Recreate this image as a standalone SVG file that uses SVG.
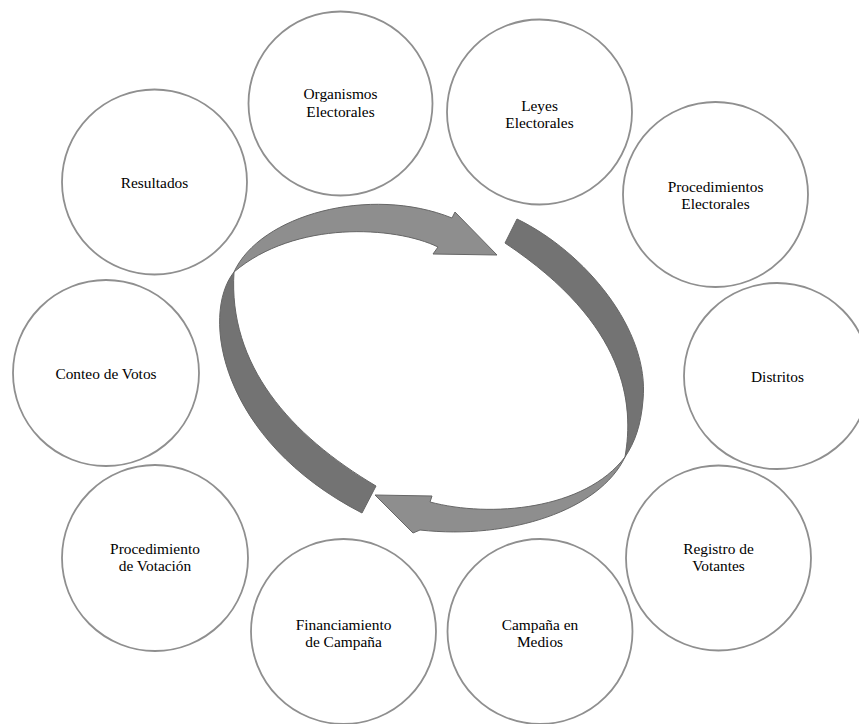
<svg xmlns="http://www.w3.org/2000/svg" width="859" height="724" viewBox="0 0 859 724">
<style>
.n{fill:#fff;stroke:#8f8f8f;stroke-width:1.8}
.t{font-family:'Liberation Serif','Times New Roman','DejaVu Serif','Noto Serif',serif;font-size:15.4px;fill:#000;text-anchor:middle}
.lt{fill:#8e8e8e;stroke:#666;stroke-width:1}
.dk{fill:#737373;stroke:#666;stroke-width:1}
</style>
<rect width="859" height="724" fill="#fff"/>
<g id="connectors">
<path class="lt" d="M234 272 C260 215 370 185 452 218 L455 212 L497 255 L433 254 L438 247 C395 226 295 220 234 272 Z"/>
<path class="dk" d="M234 272 C200 315 220 440 362 513 L376 486 C290 435 228 365 234 272 Z"/>
<path class="dk" d="M517 219 C585 252 650 330 643 400 C641 425 635 442 625 457 C634 405 628 325 505 243 Z"/>
<path class="lt" d="M625 457 C600 510 510 540 420 530 L413 533 L375 495 L432 496 L430 502 C490 518 585 510 625 457 Z"/>
</g>
<g id="organismos"><circle class="n" cx="340.5" cy="103.5" r="92"/><text class="t" x="340.5" y="99">Organismos</text><text class="t" x="340.5" y="117">Electorales</text></g>
<g id="leyes"><circle class="n" cx="539.5" cy="112" r="92.5"/><text class="t" x="539.5" y="111">Leyes</text><text class="t" x="539.5" y="128">Electorales</text></g>
<g id="procedimientos"><circle class="n" cx="715.5" cy="194.5" r="92.5"/><text class="t" x="715.5" y="192">Procedimientos</text><text class="t" x="715.5" y="209">Electorales</text></g>
<g id="distritos"><circle class="n" cx="777" cy="376" r="93"/><text class="t" x="777.5" y="382">Distritos</text></g>
<g id="registro"><circle class="n" cx="718.5" cy="558" r="92.5"/><text class="t" x="718.5" y="554">Registro de</text><text class="t" x="718.5" y="571">Votantes</text></g>
<g id="campana"><circle class="n" cx="540" cy="631.5" r="92.5"/><text class="t" x="540" y="630">Campaña en</text><text class="t" x="540" y="647">Medios</text></g>
<g id="financiamiento"><circle class="n" cx="343.5" cy="631.5" r="92.5"/><text class="t" x="343.5" y="630">Financiamiento</text><text class="t" x="343.5" y="647">de Campaña</text></g>
<g id="votacion"><circle class="n" cx="155" cy="558" r="93"/><text class="t" x="155" y="554">Procedimiento</text><text class="t" x="155" y="571">de Votación</text></g>
<g id="conteo"><circle class="n" cx="106" cy="373" r="93"/><text class="t" x="106" y="379">Conteo de Votos</text></g>
<g id="resultados"><circle class="n" cx="154.5" cy="182" r="92.5"/><text class="t" x="154.5" y="188">Resultados</text></g>
</svg>
